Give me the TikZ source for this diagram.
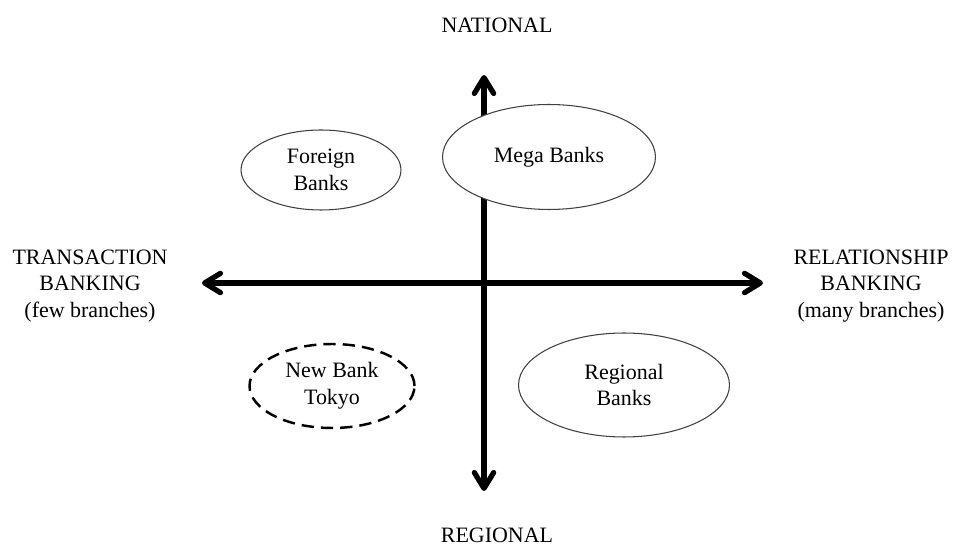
\documentclass[tikz,border=0pt]{standalone}
\usepackage{fontspec}
\setmainfont{Liberation Serif}
\usetikzlibrary{arrows.meta, shapes.geometric}

\begin{document}
\begin{tikzpicture}[x=0.02cm, y=-0.02cm,
            font=\fontsize{12.5}{15.3}\selectfont,
            axis style/.style={
                line width=3pt,
                {Straight Barb[length=9pt, width=11pt, round]}-{Straight Barb[length=9pt, width=11pt, round]}
            },
            bank style/.style={ellipse, draw=black!75, line width=0.6pt, fill=white, align=center, inner sep=0pt},
            new bank style/.style={bank style, draw=black, line width=1.4pt, dash pattern=on 7pt off 4pt},
            side label/.style={align=center, inner sep=0pt}]
            \useasboundingbox (0, 0) rectangle (953, 546);

            \coordinate (W) at (202, 283);
            \coordinate (E) at (763, 283);
            \coordinate (N) at (484, 75);
            \coordinate (S) at (484, 491);

            \draw[axis style] (W) -- (E);
            \draw[axis style] (S) -- (N);

            % banks in the four quadrants
            \node[bank style, minimum width=3.2cm, minimum height=1.6cm] (foreign) at (321, 170) {Foreign\\Banks};
            \node[bank style, minimum width=4.26cm, minimum height=2.1cm] (mega) at (549, 157) {Mega Banks};
            \node[new bank style, minimum width=3.3cm, minimum height=1.68cm] (newbank) at (332, 386) {New Bank\\Tokyo};
            \node[bank style, minimum width=4.22cm, minimum height=2.08cm] (regionalbanks) at (624, 385) {Regional\\Banks};

            \node[anchor=base] (national) at (497, 33) {NATIONAL};
            \node[anchor=base] (regional) at (497, 543) {REGIONAL};
            \node[side label] (transaction) at (90, 286) {TRANSACTION\\BANKING\\(few branches)};
            \node[side label] (relationship) at (871, 286) {RELATIONSHIP\\BANKING\\(many branches)};
        \end{tikzpicture}
\end{document}
